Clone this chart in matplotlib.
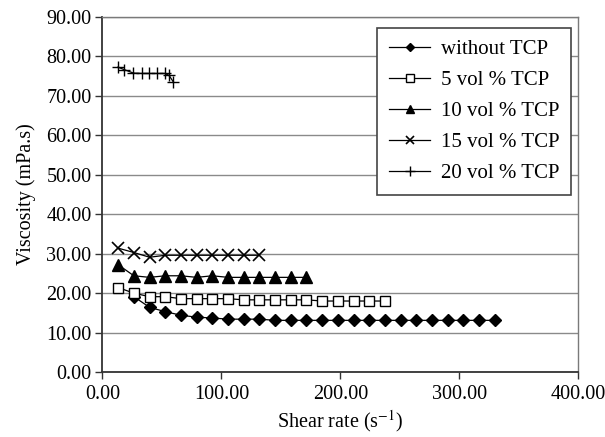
import matplotlib
matplotlib.use("Agg")
import matplotlib.pyplot as plt

plt.rcParams['font.family'] = ['Liberation Serif', 'DejaVu Serif']
plt.rcParams['mathtext.fontset'] = 'stix'

# Data
x_without = [26.4, 39.6, 52.8, 66.0, 79.2, 92.4, 105.6, 118.8, 132.0, 145.2, 158.4, 171.6,
             184.8, 198.0, 211.2, 224.4, 237.6, 250.8, 264.0, 277.2, 290.4, 303.6, 316.8, 330.0]
y_without = [19.1, 16.4, 15.3, 14.4, 13.9, 13.7, 13.4, 13.4, 13.4, 13.1, 13.1, 13.1,
             13.1, 13.1, 13.1, 13.1, 13.1, 13.1, 13.1, 13.1, 13.1, 13.1, 13.1, 13.1]

x_5 = [13.2, 26.4, 39.6, 52.8, 66.0, 79.2, 92.4, 105.6, 118.8, 132.0, 145.2, 158.4,
       171.6, 184.8, 198.0, 211.2, 224.4, 237.6]
y_5 = [21.4, 20.0, 19.1, 19.1, 18.6, 18.6, 18.6, 18.6, 18.3, 18.3, 18.3, 18.3,
       18.3, 18.0, 18.0, 18.0, 18.0, 18.0]

x_10 = [13.2, 26.4, 39.6, 52.8, 66.0, 79.2, 92.4, 105.6, 118.8, 132.0, 145.2, 158.4, 171.6]
y_10 = [27.2, 24.4, 24.0, 24.4, 24.4, 24.0, 24.4, 24.0, 24.0, 24.0, 24.0, 24.0, 24.0]

x_15 = [13.2, 26.4, 39.6, 52.8, 66.0, 79.2, 92.4, 105.6, 118.8, 132.0]
y_15 = [31.4, 30.3, 29.1, 29.6, 29.6, 29.6, 29.6, 29.6, 29.6, 29.6]

x_20 = [13.0, 18.0, 26.0, 33.0, 39.5, 46.0, 52.5, 56.0, 59.5]
y_20 = [77.3, 76.7, 75.8, 75.7, 75.7, 75.7, 75.7, 75.2, 73.6]

labels = ["without TCP", "5 vol % TCP", "10 vol % TCP", "15 vol % TCP", "20 vol % TCP"]
x_ticks = [0, 100, 200, 300, 400]
y_ticks = [0, 10, 20, 30, 40, 50, 60, 70, 80, 90]

fig = plt.figure(figsize=(6.05, 4.37), dpi=100)
ax = fig.add_axes([0.1694, 0.1487, 0.7860, 0.8123])

for y in y_ticks:
    ax.axhline(y, color='#8a8a8a', lw=1.0, zorder=0)

lc = 'black'
ax.plot(x_without, y_without, color=lc, lw=0.9, marker='D', ms=6, mfc='black', mec='black', label=labels[0])
ax.plot(x_5, y_5, color=lc, lw=0.9, marker='s', ms=7.5, mfc='white', mec='black', mew=1.0, label=labels[1])
ax.plot(x_10, y_10, color=lc, lw=0.9, marker='^', ms=8, mfc='black', mec='black', label=labels[2])
ax.plot(x_15, y_15, color=lc, lw=0.9, marker='x', ms=8, mec='black', mew=1.2, label=labels[3])
ax.plot(x_20, y_20, color=lc, lw=0.9, marker='+', ms=9, mec='black', mew=1.0, label=labels[4])

ax.set_xlim(0, 400)
ax.set_ylim(0, 90)
ax.set_xticks(x_ticks)
ax.set_yticks(y_ticks)
ax.set_xticklabels([f"{v:.2f}" for v in x_ticks])
ax.set_yticklabels([f"{v:.2f}" for v in y_ticks])
ax.tick_params(axis='both', direction='out', length=5, width=1.0, labelsize=14.5, color='#333333')
ax.tick_params(axis='x', pad=4)
ax.tick_params(axis='y', pad=3)

for s in ['left', 'bottom']:
    ax.spines[s].set_color('#333333')
    ax.spines[s].set_linewidth(1.3)
for s in ['top', 'right']:
    ax.spines[s].set_color('#7a7a7a')
    ax.spines[s].set_linewidth(1.0)

ax.set_xlabel("Shear rate (s$^{-1}$)", fontsize=14.5, labelpad=3)
ax.set_ylabel("Viscosity (mPa.s)", fontsize=14.5, labelpad=7)

leg = ax.legend(loc='upper right', bbox_to_anchor=(0.985, 0.969), fontsize=15,
                frameon=True, fancybox=False, shadow=False, numpoints=1, markerscale=0.75,
                labelspacing=0.55, handlelength=2.0, handletextpad=0.5, borderpad=0.55,
                borderaxespad=0)
leg.get_frame().set_edgecolor('#444444')
leg.get_frame().set_linewidth(1.2)
leg.get_frame().set_alpha(1)

fig.savefig("out.png", dpi=100)
